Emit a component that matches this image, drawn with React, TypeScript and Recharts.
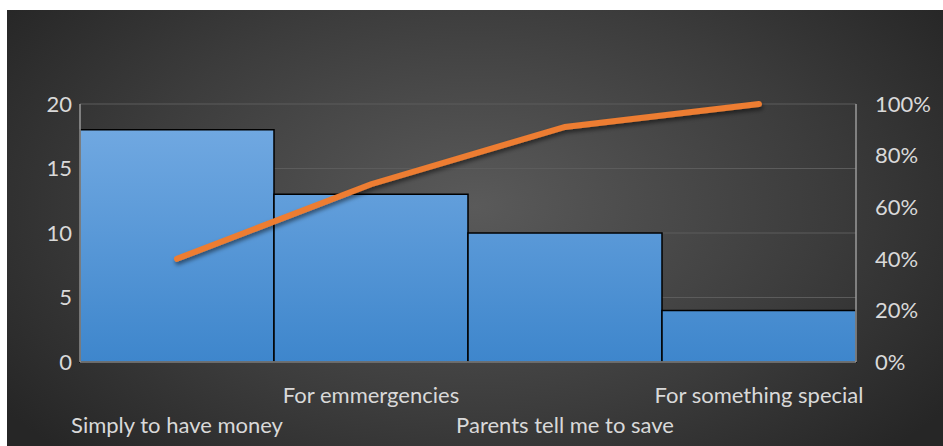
import { ComposedChart, Bar, Line, XAxis, YAxis, CartesianGrid } from "recharts";

const reasons = [
  "Simply to have money",
  "For emmergencies",
  "Parents tell me to save",
  "For something special",
];
const counts = [18, 13, 10, 4];
const cumulative = [0.4, 0.689, 0.911, 1.0];
const countTicks = [0, 5, 10, 15, 20];
const pctTicks = [0, 0.2, 0.4, 0.6, 0.8, 1];

const data = reasons.map((name, i) => ({
  name,
  count: counts[i],
  cum: cumulative[i],
}));

const font = "Lato, 'Open Sans', sans-serif";
const textColor = "#d9d9d9";

const StaggerTick = (props: any) => {
  const { x, y, payload, index } = props;
  const dy = index % 2 === 0 ? 63 : 33;
  return (
    <text
      x={x}
      y={y + dy}
      textAnchor="middle"
      fill={textColor}
      fontSize={22}
      fontFamily={font}
    >
      {payload.value}
    </text>
  );
};

const App = () => {
  return (
    <div style={{ position: "absolute", left: 0, top: 0, width: 943, height: 446, background: "#fff" }}>
      <div
        style={{
          position: "absolute",
          left: 7,
          top: 10,
          width: 936,
          height: 436,
          background: "radial-gradient(ellipse 62% 80% at 50% 45%, #5a5a5a 0%, #3c3c3c 60%, #262626 100%)",
        }}
      >
        <ComposedChart
          width={936}
          height={436}
          data={data}
          margin={{ top: 94, right: 0, left: 0, bottom: 0 }}
          barCategoryGap={0}
        >
          <defs>
            <linearGradient id="barFill" gradientUnits="userSpaceOnUse" x1="0" y1="119" x2="0" y2="352">
              <stop offset="0%" stopColor="#70a8e1" />
              <stop offset="100%" stopColor="#3e86cc" />
            </linearGradient>
            <filter id="lineShadow" x="-10%" y="-10%" width="120%" height="130%">
              <feDropShadow dx="1" dy="3" stdDeviation="2" floodColor="#000" floodOpacity="0.5" />
            </filter>
          </defs>
          <CartesianGrid vertical={false} stroke="#5c5c5c" strokeWidth={1} yAxisId="left" />
          <XAxis
            dataKey="name"
            height={84}
            tick={<StaggerTick />}
            tickLine={false}
            axisLine={{ stroke: "#8a8a8a", strokeWidth: 1.5 }}
            interval={0}
          />
          <YAxis
            yAxisId="left"
            domain={[0, 20]}
            ticks={countTicks}
            width={73}
            tickSize={0}
            tickMargin={8}
            tickLine={false}
            axisLine={{ stroke: "#9a9a9a", strokeWidth: 1.5 }}
            tick={{ fill: textColor, fontSize: 22, fontFamily: font }}
          />
          <YAxis
            yAxisId="right"
            orientation="right"
            domain={[0, 1]}
            ticks={pctTicks}
            width={87}
            tickSize={0}
            tickMargin={19}
            tickLine={false}
            axisLine={{ stroke: "#9a9a9a", strokeWidth: 1.5 }}
            tickFormatter={(v: number) => `${Math.round(v * 100)}%`}
            tick={{ fill: textColor, fontSize: 22, fontFamily: font, textAnchor: "start" }}
          />
          <Bar
            yAxisId="left"
            dataKey="count"
            fill="url(#barFill)"
            stroke="#000"
            strokeWidth={1.5}
            isAnimationActive={false}
          />
          <Line
            yAxisId="right"
            dataKey="cum"
            type="linear"
            stroke="#ed7d31"
            strokeWidth={6}
            strokeLinecap="round"
            dot={false}
            activeDot={false}
            filter="url(#lineShadow)"
            isAnimationActive={false}
          />
        </ComposedChart>
      </div>
    </div>
  );
};

export default App;
